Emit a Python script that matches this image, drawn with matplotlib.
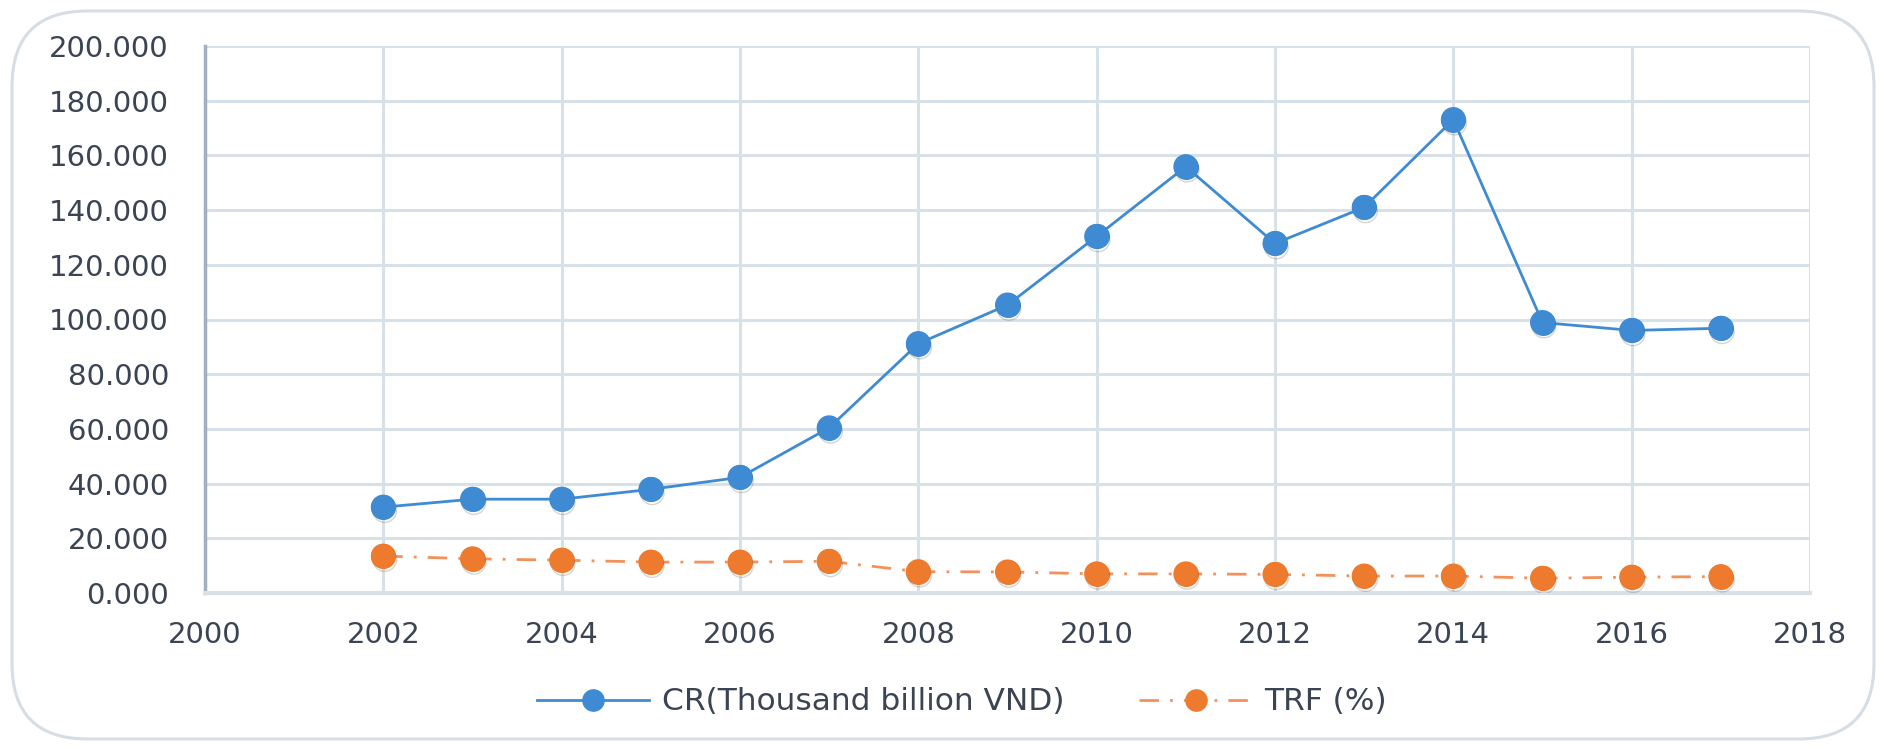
import matplotlib.pyplot as plt
import matplotlib.patheffects as pe
from matplotlib.patches import FancyBboxPatch

# -----------------------------
# Data
# -----------------------------
years = [2002, 2003, 2004, 2005, 2006, 2007, 2008, 2009,
         2010, 2011, 2012, 2013, 2014, 2015, 2016, 2017]
cr = [31.4, 34.3, 34.3, 37.9, 42.3, 60.4, 91.2, 105.3,
      130.4, 155.9, 127.8, 141.0, 173.1, 98.9, 96.0, 96.8]
trf = [13.5, 12.5, 12.0, 11.3, 11.3, 11.6, 7.8, 7.7,
       7.0, 7.0, 6.8, 6.2, 6.2, 5.4, 5.8, 6.0]

cr_label = "CR(Thousand billion VND)"
trf_label = "TRF (%)"

x_ticks = list(range(2000, 2019, 2))
y_ticks = list(range(0, 201, 20))

blue = "#3f8bd3"
orange = "#ee7a2e"

# -----------------------------
# Figure
# -----------------------------
fig = plt.figure(figsize=(18.88, 7.49), dpi=100)

# rounded chart border
border = FancyBboxPatch((12 / 1888, 10 / 749), 1862 / 1888, 728 / 749,
                        boxstyle="round,pad=0,rounding_size=0.04",
                        transform=fig.transFigure, fill=False,
                        edgecolor="#d5dde5", linewidth=2.2,
                        mutation_aspect=1888 / 749)
fig.patches.append(border)

ax = fig.add_axes([205 / 1888, 1 - 593 / 749, 1605 / 1888, 547 / 749])

shadow = [pe.SimpleLineShadow(offset=(1, -2.5), shadow_color="#444444", alpha=0.22),
          pe.Normal()]

# lines with markers
ax.plot(years, cr, color=blue, linewidth=2.0, marker="o",
        markersize=17, markerfacecolor=blue, markeredgecolor=blue,
        label=cr_label, zorder=3)
ax.plot(years, trf, color="#f2925a", linewidth=2.0, linestyle=(0, (7, 4, 1, 4)),
        marker="o", markersize=17, markerfacecolor=orange,
        markeredgecolor=orange, label=trf_label, zorder=3)

# soft marker shadows
ax.plot(years, cr, linestyle="none", marker="o", markersize=17,
        color=blue, path_effects=shadow, zorder=4)
ax.plot(years, trf, linestyle="none", marker="o", markersize=17,
        color=orange, path_effects=shadow, zorder=4)

ax.set_xlim(2000, 2018)
ax.set_ylim(0, 200)
ax.set_xticks(x_ticks)
ax.set_yticks(y_ticks)
ax.set_yticklabels([f"{v:.3f}" for v in y_ticks])

ax.grid(True, color="#d9e1e8", linewidth=2.2)
ax.set_axisbelow(True)

for s in ["top", "right"]:
    ax.spines[s].set_visible(False)
ax.spines["left"].set_color("#9fb0c0")
ax.spines["left"].set_linewidth(2.5)
ax.spines["bottom"].set_color("#d9e1e8")
ax.spines["bottom"].set_linewidth(3)

ax.tick_params(axis="both", length=0, labelsize=21, labelcolor="#3b4453")
ax.tick_params(axis="y", pad=26)
ax.tick_params(axis="x", pad=20)

ax.legend(loc="center", bbox_to_anchor=(962 / 1888, 1 - 702 / 749),
          bbox_transform=fig.transFigure, ncol=2, frameon=False,
          fontsize=22.5, labelcolor="#3b4453", handlelength=3.6,
          handletextpad=0.4, columnspacing=2.4, markerscale=0.9)

fig.savefig("out.png", dpi=100)
